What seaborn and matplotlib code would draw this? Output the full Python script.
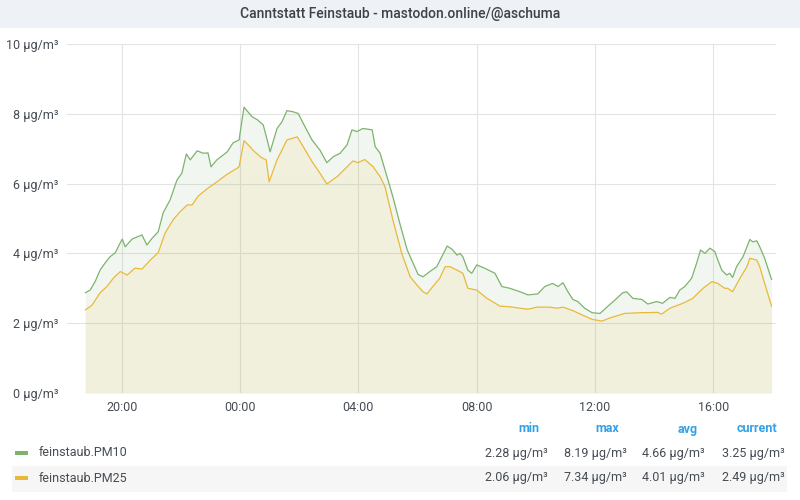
import numpy as np
import pandas as pd
import matplotlib
matplotlib.use("Agg")
import matplotlib.pyplot as plt
import matplotlib.dates as mdates
from matplotlib.patches import Rectangle
import seaborn as sns

# ---------------- data ----------------
TITLE = "Canntstatt Feinstaub - mastodon.online/@aschuma"

pm10_times = ["18:46", "18:56", "19:06", "19:16", "19:26", "19:36", "19:47", "19:53",
              "20:01", "20:07", "20:21", "20:41", "20:51", "21:02", "21:14", "21:24",
              "21:38", "21:52", "22:02", "22:11", "22:19", "22:33", "22:45", "22:55",
              "23:01", "23:13", "23:34", "23:46", "23:58", "00:04", "00:08", "00:24",
              "00:36", "00:47", "00:55", "01:01", "01:15", "01:25", "01:35", "01:47",
              "01:58", "02:08", "02:26", "02:42", "02:56", "03:09", "03:23", "03:37",
              "03:47", "03:57", "04:09", "04:28", "04:34", "04:44", "04:58", "05:10",
              "05:24", "05:39", "05:51", "06:01", "06:11", "06:25", "06:39", "06:49",
              "07:00", "07:10", "07:20", "07:26", "07:32", "07:42", "07:50", "08:00",
              "08:17", "08:37", "08:51", "09:07", "09:28", "09:44", "10:04", "10:18",
              "10:34", "10:45", "10:55", "11:05", "11:15", "11:25", "11:39", "11:54",
              "12:10", "12:24", "12:40", "12:56", "13:04", "13:17", "13:35", "13:47",
              "14:05", "14:17", "14:32", "14:42", "14:52", "15:02", "15:16", "15:26",
              "15:34", "15:43", "15:53", "16:03", "16:09", "16:17", "16:27", "16:33",
              "16:39", "16:47", "17:00", "17:14", "17:20", "17:28", "17:34", "17:44",
              "17:58"]
pm10_values = [2.87, 2.95, 3.19, 3.52, 3.72, 3.90, 4.02, 4.19,
               4.41, 4.19, 4.41, 4.53, 4.24, 4.44, 4.62, 5.16,
               5.53, 6.10, 6.30, 6.85, 6.68, 6.94, 6.87, 6.88,
               6.48, 6.68, 6.91, 7.17, 7.25, 7.82, 8.19, 7.92,
               7.82, 7.68, 7.25, 6.91, 7.58, 7.77, 8.09, 8.06,
               8.01, 7.73, 7.25, 6.96, 6.60, 6.77, 6.87, 7.11,
               7.54, 7.49, 7.58, 7.54, 7.06, 6.87, 6.20, 5.62,
               4.86, 4.10, 3.72, 3.40, 3.33, 3.48, 3.62, 3.90,
               4.21, 4.12, 3.95, 4.00, 3.90, 3.52, 3.43, 3.67,
               3.57, 3.43, 3.05, 3.00, 2.90, 2.81, 2.84, 3.05,
               3.14, 3.05, 3.16, 2.90, 2.68, 2.62, 2.43, 2.30,
               2.28, 2.46, 2.66, 2.87, 2.90, 2.71, 2.68, 2.55,
               2.62, 2.57, 2.74, 2.71, 2.95, 3.05, 3.29, 3.72,
               4.10, 4.00, 4.15, 4.05, 3.81, 3.52, 3.38, 3.43,
               3.31, 3.62, 3.90, 4.40, 4.33, 4.36, 4.19, 3.86,
               3.25]

pm25_times = ["18:46", "19:00", "19:16", "19:30", "19:43", "19:57", "20:11", "20:27",
              "20:41", "20:58", "21:14", "21:28", "21:44", "21:58", "22:13", "22:23",
              "22:35", "22:53", "23:13", "23:34", "23:54", "23:58", "00:08", "00:20",
              "00:26", "00:41", "00:47", "00:53", "00:59", "01:15", "01:35", "01:56",
              "02:08", "02:26", "02:42", "02:56", "03:17", "03:37", "03:49", "03:59",
              "04:13", "04:30", "04:44", "04:54", "05:10", "05:28", "05:45", "05:59",
              "06:11", "06:19", "06:31", "06:45", "06:56", "07:06", "07:20", "07:32",
              "07:42", "08:00", "08:21", "08:47", "09:07", "09:28", "09:44", "10:02",
              "10:28", "10:43", "10:55", "11:15", "11:35", "11:54", "12:14", "12:30",
              "13:00", "13:31", "14:07", "14:15", "14:32", "14:58", "15:18", "15:39",
              "15:57", "16:09", "16:23", "16:29", "16:39", "16:54", "17:08", "17:14",
              "17:28", "17:34", "17:44", "17:58"]
pm25_values = [2.38, 2.52, 2.87, 3.05, 3.29, 3.48, 3.38, 3.58,
               3.55, 3.81, 4.02, 4.58, 4.96, 5.19, 5.39, 5.39,
               5.64, 5.85, 6.05, 6.27, 6.44, 6.48, 7.23, 7.06,
               6.96, 6.77, 6.72, 6.68, 6.05, 6.68, 7.25, 7.34,
               7.06, 6.63, 6.30, 5.99, 6.20, 6.48, 6.65, 6.60,
               6.69, 6.48, 6.20, 5.91, 4.96, 4.00, 3.33, 3.09,
               2.90, 2.84, 3.05, 3.29, 3.62, 3.62, 3.52, 3.43,
               3.00, 2.95, 2.71, 2.49, 2.47, 2.43, 2.40, 2.46,
               2.46, 2.43, 2.46, 2.36, 2.23, 2.11, 2.06, 2.15,
               2.28, 2.30, 2.31, 2.26, 2.43, 2.57, 2.71, 3.00,
               3.19, 3.14, 3.00, 3.00, 2.90, 3.29, 3.62, 3.86,
               3.81, 3.62, 3.14, 2.49]

series_names = ["feinstaub.PM10", "feinstaub.PM25"]
series_colors = ["#7eb26d", "#eab839"]
y_ticks = [0, 2, 4, 6, 8, 10]
x_tick_labels = ["20:00", "00:00", "04:00", "08:00", "12:00", "16:00"]
stat_headers = ["min", "max", "avg", "current"]
pm10_stats = [2.28, 8.19, 4.66, 3.25]
pm25_stats = [2.06, 7.34, 4.01, 2.49]
UNIT = "µg/m³"

# ---------------- helpers ----------------
DAY1 = "2023-01-01"
DAY2 = "2023-01-02"


def to_dt(hhmm):
    day = DAY1 if int(hhmm[:2]) >= 18 else DAY2
    return pd.Timestamp(f"{day} {hhmm}")


frames = []
for name, times, vals in [(series_names[0], pm10_times, pm10_values),
                          (series_names[1], pm25_times, pm25_values)]:
    frames.append(pd.DataFrame({"time": [to_dt(t) for t in times],
                                "value": vals, "series": name}))
df = pd.concat(frames, ignore_index=True)

# ---------------- figure ----------------
sns.set_style("white")
plt.rcParams["font.family"] = ["Roboto", "DejaVu Sans"]

W, H = 800, 500
fig = plt.figure(figsize=(8, 5), dpi=100)


def fx(x):
    return x / W


def fy(y):
    return 1 - y / H


# title bar
fig.patches.append(Rectangle((0, fy(28)), 1, 28 / H, transform=fig.transFigure,
                             facecolor="#eef1f6", edgecolor="none", zorder=0))
fig.text(0.5, fy(14), TITLE, ha="center", va="center", fontsize=10,
         color="#3d4148", fontweight="medium")

ax_l, ax_r, ax_t, ax_b = 67, 776, 44, 393
ax = fig.add_axes([fx(ax_l), fy(ax_b), (ax_r - ax_l) / W, (ax_b - ax_t) / H])
ax.set_facecolor("none")

palette = dict(zip(series_names, series_colors))
for name in series_names:
    sub = df[df["series"] == name]
    ax.fill_between(sub["time"], sub["value"], 0, color=palette[name],
                    alpha=0.1, linewidth=0, zorder=1)
sns.lineplot(data=df, x="time", y="value", hue="series", palette=palette,
             linewidth=0.9, legend=False, ax=ax, zorder=3)

ax.set_ylim(0, 10)
ax.set_xlim(pd.Timestamp(f"{DAY1} 18:09"), pd.Timestamp(f"{DAY2} 18:07"))
ax.set_yticks(y_ticks)
ax.set_yticklabels([f"{v} {UNIT}" for v in y_ticks])
xt = [to_dt(t) for t in x_tick_labels]
ax.set_xticks(xt)
ax.set_xticklabels(x_tick_labels)
ax.set_xlabel("")
ax.set_ylabel("")
for s in ax.spines.values():
    s.set_visible(False)
ax.grid(True, color="#e3e3e3", linewidth=0.8, zorder=0)
ax.set_axisbelow(True)
ax.tick_params(axis="both", length=0, labelsize=9, colors="#464c54")
ax.tick_params(axis="y", pad=6)
ax.tick_params(axis="x", pad=6)

# ---------------- legend table ----------------
header_color = "#33a2e5"
text_color = "#464c54"
row_y = [453, 478]
fig.patches.append(Rectangle((fx(12), fy(492)), (787 - 12) / W, 26 / H,
                             transform=fig.transFigure, facecolor="#f6f6f6",
                             edgecolor="none", zorder=0))
header_right = [539, 619, 698, 777]
value_right = [548, 627, 705, 785]
for hdr, xr in zip(stat_headers, header_right):
    fig.text(fx(xr), fy(429), hdr, ha="right", va="center", fontsize=9,
             color=header_color, fontweight="bold")
for name, color, stats, y in zip(series_names, series_colors,
                                 [pm10_stats, pm25_stats], row_y):
    fig.patches.append(Rectangle((fx(15), fy(y + 2)), 13 / W, 4 / H,
                                 transform=fig.transFigure, facecolor=color,
                                 edgecolor="none", zorder=2))
    fig.text(fx(39), fy(y), name, ha="left", va="center", fontsize=9,
             color=text_color)
    for v, xr in zip(stats, value_right):
        fig.text(fx(xr), fy(y), f"{v:.2f} {UNIT}", ha="right", va="center",
                 fontsize=9, color=text_color)

fig.savefig("out.png", dpi=100)
